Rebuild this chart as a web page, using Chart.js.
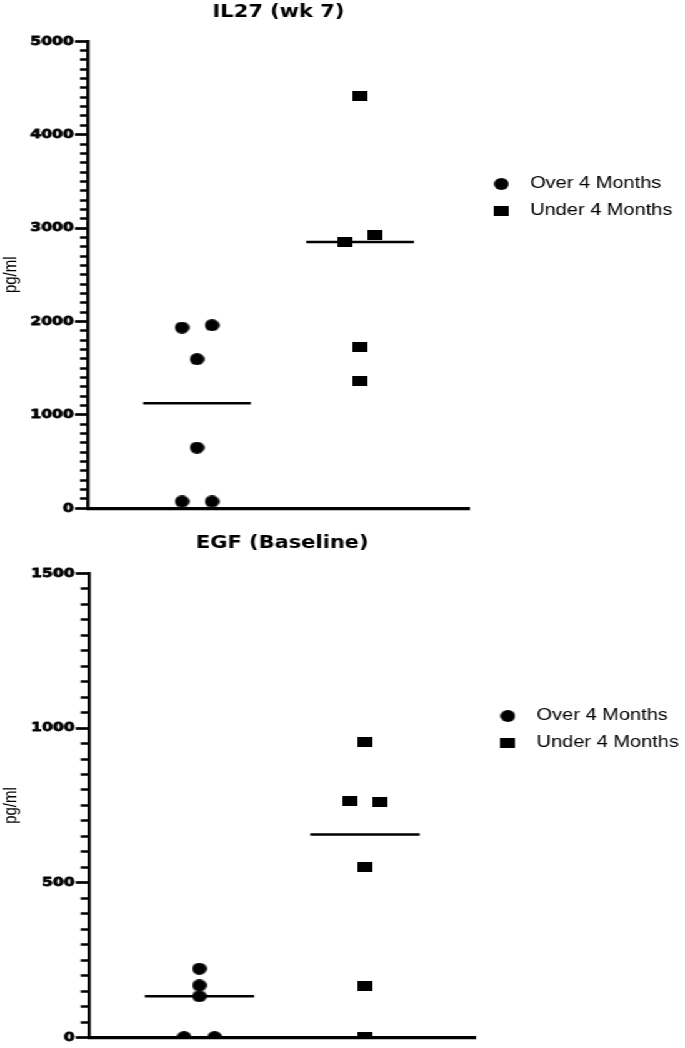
<!DOCTYPE html>
<html><head><meta charset="utf-8">
<script src="https://cdn.jsdelivr.net/npm/chart.js@4.4.1/dist/chart.umd.min.js"></script>
<style>
html,body{margin:0;padding:0;background:#fff;overflow:hidden;}
#wrap{width:548px;transform:scaleX(1.25);transform-origin:0 0;}
canvas{display:block;}
</style></head><body>
<div id="wrap">
<canvas id="c1" width="548" height="528"></canvas>
<canvas id="c2" width="548" height="520"></canvas>
</div>
<script>
// ---- data ----
const seriesNames = ['Over 4 Months', 'Under 4 Months'];
const groupPositions = [1, 2];

// IL27 (wk 7)
const il27OverX = [0.908, 1.092, 1, 1, 0.908, 1.092];
const il27OverY = [1935, 1960, 1597, 650, 73, 73];
const il27UnderX = [2, 1.908, 2.092, 2, 2];
const il27UnderY = [4419, 2852, 2921, 1724, 1368];
const il27MajorTicks = [0, 1000, 2000, 3000, 4000, 5000];
const il27MinorStep = 100;

// EGF (Baseline)
const egfOverX = [1, 1, 1, 0.908, 1.092];
const egfOverY = [223, 169, 134, 2, 2];
const egfUnderX = [2, 1.908, 2.092, 2, 2, 2];
const egfUnderY = [955, 764, 761, 552, 166, 2];
const egfMajorTicks = [0, 500, 1000, 1500];
const egfMinorStep = 50;

// ---- helpers ----
function pointImg(shape) {
  const c = document.createElement('canvas');
  if (shape === 'circle') {
    c.width = 12; c.height = 12;
    const g = c.getContext('2d');
    g.fillStyle = '#000'; g.beginPath(); g.arc(6, 6, 5.9, 0, Math.PI * 2); g.fill();
  } else {
    c.width = 12; c.height = 10;
    const g = c.getContext('2d');
    g.fillStyle = '#000'; g.fillRect(0, 0, 12, 10);
  }
  return c;
}
const median = a => { const s = [...a].sort((p, q) => p - q); const m = s.length >> 1; return s.length % 2 ? s[m] : (s[m - 1] + s[m]) / 2; };
const pts = (xs, ys) => xs.map((x, i) => ({ x, y: ys[i] }));

function build(id, p) {
  const circ = pointImg('circle'), sq = pointImg('rect');
  const medLine = (g, vals) => {
    const m = median(vals);
    return { label: 'median', isMedian: true, data: [{ x: g - 0.33, y: m }, { x: g + 0.33, y: m }],
      showLine: true, borderColor: '#000', borderWidth: 2.5, pointRadius: 0, pointHoverRadius: 0, fill: false };
  };
  return new Chart(document.getElementById(id), {
    type: 'scatter',
    data: { datasets: [
      { label: seriesNames[0], data: pts(p.overX, p.overY), pointStyle: circ, backgroundColor: '#000', borderColor: '#000', pointRadius: 6 },
      { label: seriesNames[1], data: pts(p.underX, p.underY), pointStyle: sq, backgroundColor: '#000', borderColor: '#000', pointRadius: 6 },
      medLine(groupPositions[0], p.overY),
      medLine(groupPositions[1], p.underY)
    ] },
    options: {
      responsive: false, animation: false, events: [],
      layout: { padding: { top: 0, left: 0, right: p.padRight, bottom: p.padBottom } },
      plugins: {
        title: { display: true, text: p.title, fullSize: false, color: '#000',
          font: { family: 'DejaVu Sans', weight: 'bold', size: 16.8, lineHeight: 1.2 },
          padding: { top: p.titleTop, bottom: p.titleBottom } },
        legend: { position: 'right', align: 'start', maxWidth: 260,
          labels: { usePointStyle: true, pointStyleWidth: 30, padding: 11, color: '#000',
            font: { family: 'Liberation Sans', size: 16 },
            filter: (item, data) => !data.datasets[item.datasetIndex].isMedian },
          title: { display: true, text: ' ', font: { size: 10, lineHeight: 1.2 }, padding: { top: p.legendTop, bottom: 0 } } },
        tooltip: { enabled: false }
      },
      scales: {
        x: { type: 'linear', min: 0.333, max: 2.667,
          ticks: { display: false }, grid: { display: false, drawTicks: false },
          border: { display: true, color: '#000', width: 3.3 },
          afterFit: s => { s.height = 0; } },
        y: { type: 'linear', position: 'left', min: 0, max: p.majors[p.majors.length - 1],
          afterFit: s => { s.width = p.axisLeft; },
          ticks: { stepSize: p.minorStep, autoSkip: false, padding: 1, color: '#000',
            textStrokeColor: '#000', textStrokeWidth: 0.8,
            font: { family: 'DejaVu Sans', weight: 'bold', size: 12.5 },
            callback: v => p.majors.includes(v) ? String(v) : '' },
          grid: { display: true, drawOnChartArea: false, drawTicks: true, tickLength: 10.6, tickWidth: 2.7, tickColor: '#000',
            tickBorderDash: c => (c.tick && p.majors.includes(c.tick.value)) ? [] : [0, 4, 12, 50] },
          border: { display: true, color: '#000', width: 2.6 },
          title: { display: true, text: 'pg/ml', color: '#000', font: { family: 'Liberation Sans', size: 15 }, padding: 0 } }
      }
    }
  });
}

build('c1', { title: 'IL27 (wk 7)', overX: il27OverX, overY: il27OverY, underX: il27UnderX, underY: il27UnderY,
  majors: il27MajorTicks, minorStep: il27MinorStep,
  titleTop: 2.9, titleBottom: 18.2, padBottom: 19.7, axisLeft: 70.6, legendTop: 153, padRight: 0 });
build('c2', { title: 'EGF (Baseline)', overX: egfOverX, overY: egfOverY, underX: egfUnderX, underY: egfUnderY,
  majors: egfMajorTicks, minorStep: egfMinorStep,
  titleTop: 5.7, titleBottom: 19.4, padBottom: 10.3, axisLeft: 71.2, legendTop: 157, padRight: -5.2 });
</script>
</body></html>
